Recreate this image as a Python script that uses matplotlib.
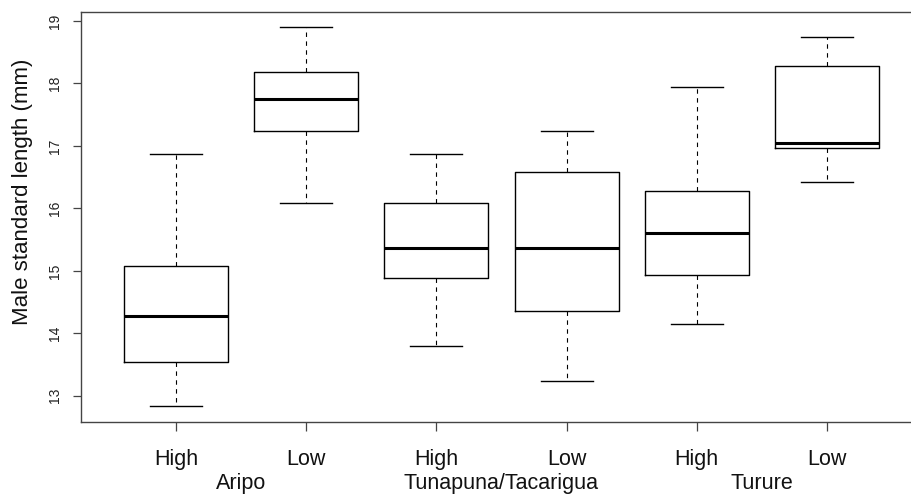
import matplotlib
matplotlib.use("Agg")
import matplotlib.pyplot as plt

plt.rcParams['font.family'] = ['Liberation Sans', 'DejaVu Sans']

# valores (longitud estandar de machos, mm)
niveles = ["High", "Low", "High", "Low", "High", "Low"]
rios = ["Aripo", "Tunapuna/Tacarigua", "Turure"]

mediana = [14.28, 17.75, 15.37, 15.37, 15.60, 17.04]
q1 = [13.54, 17.245, 14.89, 14.36, 14.94, 16.96]
q3 = [15.075, 18.18, 16.08, 16.59, 16.28, 18.285]
bigote_inf = [12.84, 16.08, 13.80, 13.235, 14.15, 16.43]
bigote_sup = [16.87, 18.90, 16.87, 17.24, 17.95, 18.75]

stats = []
for i in range(len(mediana)):
    stats.append({"med": mediana[i], "q1": q1[i], "q3": q3[i],
                  "whislo": bigote_inf[i], "whishi": bigote_sup[i],
                  "fliers": []})

fig = plt.figure(figsize=(9.12, 4.95), dpi=100)
W, H = 912.0, 495.0
ax = fig.add_axes([81 / W, (H - 422) / H, (922 - 81) / W, (422 - 12) / H])

pos = list(range(1, len(mediana) + 1))
ax.bxp(stats, positions=pos, widths=0.8, capwidths=0.4, showfliers=False,
       boxprops=dict(color="black", linewidth=1.0),
       medianprops=dict(color="black", linewidth=2.2, solid_capstyle="butt"),
       whiskerprops=dict(color="black", linewidth=0.8, linestyle=(0, (4, 4))),
       capprops=dict(color="black", linewidth=1.0))

ax.set_xlim(0.27, 6.73)
ax.set_ylim(12.58, 19.144)

# el borde derecho queda fuera de la imagen
ax.spines["right"].set_visible(False)
for s in ax.spines.values():
    s.set_color("#444444")
    s.set_linewidth(1.0)

ax.set_yticks([13, 14, 15, 16, 17, 18, 19])
ax.tick_params(axis="y", length=6, width=0.9, color="#444444", labelsize=10,
               pad=8, labelrotation=90, labelcolor="#222222")
for t in ax.get_yticklabels():
    t.set_va("center")

ax.set_xticks(pos)
ax.set_xticklabels(niveles)
ax.tick_params(axis="x", length=6.5, width=0.9, color="#444444", labelsize=15.5,
               pad=13, labelcolor="#111111")

# etiqueta de cada rio, centrada entre High y Low
for k, r in enumerate(rios):
    ax.annotate(r, xy=(2 * k + 1.5, 0), xycoords=("data", "axes fraction"),
                xytext=(0, -37), textcoords="offset points",
                ha="center", va="top", fontsize=15.5, color="#111111")

fig.text(23 / W, 1 - 191.5 / H, "Male standard length (mm)", rotation=90,
         ha="center", va="center", fontsize=16, color="#111111")

fig.savefig("out.png", dpi=100)
